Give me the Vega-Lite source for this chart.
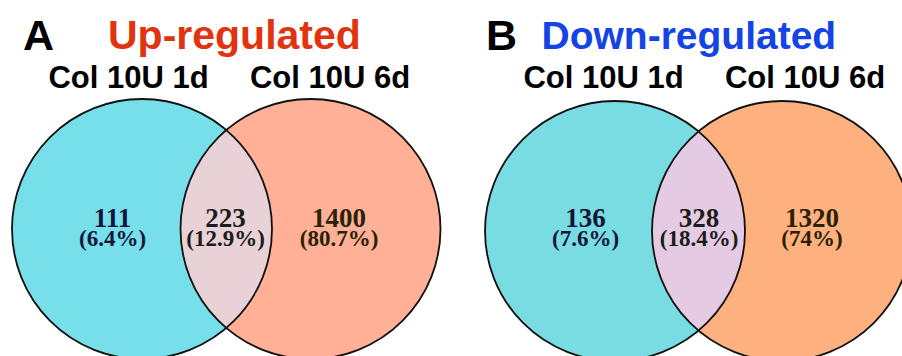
{
  "$schema": "https://vega.github.io/schema/vega-lite/v6.json",
  "width": 902,
  "height": 356,
  "autosize": "none",
  "padding": 0,
  "background": "white",
  "config": {"view": {"stroke": null}},
  "datasets": {
    "circles": [
      {"panel": "A", "set": "A 1d", "x": 1.42, "y": 2.29},
      {"panel": "A", "set": "A 6d", "x": 3.105, "y": 2.29},
      {"panel": "B", "set": "B 1d", "x": 6.15, "y": 2.31},
      {"panel": "B", "set": "B 6d", "x": 7.82, "y": 2.31}
    ],
    "lenses": [
      {"panel": "A", "set": "A both", "x": 2.2625, "y": 2.29},
      {"panel": "B", "set": "B both", "x": 6.985, "y": 2.31}
    ],
    "counts": [
      {"panel": "A", "region": "only 1d", "count": 111, "pct": 6.4, "x": 1.125, "y": 2.265},
      {"panel": "A", "region": "both", "count": 223, "pct": 12.9, "x": 2.255, "y": 2.265},
      {"panel": "A", "region": "only 6d", "count": 1400, "pct": 80.7, "x": 3.39, "y": 2.265},
      {"panel": "B", "region": "only 1d", "count": 136, "pct": 7.6, "x": 5.855, "y": 2.265},
      {"panel": "B", "region": "both", "count": 328, "pct": 18.4, "x": 6.99, "y": 2.265},
      {"panel": "B", "region": "only 6d", "count": 1320, "pct": 74, "x": 8.12, "y": 2.265}
    ],
    "setnames": [
      {"panel": "A", "name": "Col 10U 1d", "x": 1.285, "y": 0.88},
      {"panel": "A", "name": "Col 10U 6d", "x": 3.30, "y": 0.88},
      {"panel": "B", "name": "Col 10U 1d", "x": 6.035, "y": 0.88},
      {"panel": "B", "name": "Col 10U 6d", "x": 8.05, "y": 0.88}
    ],
    "titles": [
      {"kind": "letter", "label": "A", "x": 0.23, "y": 0.50},
      {"kind": "up", "label": "Up-regulated", "x": 1.08, "y": 0.49},
      {"kind": "letter", "label": "B", "x": 4.86, "y": 0.50},
      {"kind": "down", "label": "Down-regulated", "x": 5.415, "y": 0.49}
    ]
  },
  "encoding": {
    "x": {"field": "x", "type": "quantitative", "axis": null, "scale": {"domain": [0, 9.02], "nice": false, "zero": false}},
    "y": {"field": "y", "type": "quantitative", "axis": null, "scale": {"domain": [0, 3.56], "reverse": true, "nice": false, "zero": false}}
  },
  "layer": [
    {
      "data": {"name": "circles"},
      "mark": {"type": "point", "shape": "circle", "size": 67600, "filled": true, "opacity": 1, "strokeWidth": 0, "clip": false},
      "encoding": {
        "fill": {"field": "set", "type": "nominal", "legend": null,
          "scale": {"domain": ["A 1d", "A 6d", "B 1d", "B 6d"],
                    "range": ["#76DFEA", "#FFB096", "#78DCE2", "#FFB07F"]}}
      }
    },
    {
      "data": {"name": "lenses"},
      "mark": {"type": "point", "shape": "M0,-0.7615A1,1,0,0,1,0,0.7615A1,1,0,0,1,0,-0.7615Z", "size": 67600, "filled": true, "opacity": 1, "strokeWidth": 0, "clip": false},
      "encoding": {
        "fill": {"field": "set", "type": "nominal", "legend": null,
          "scale": {"domain": ["A both", "B both"], "range": ["#E8D1D7", "#E4CBE3"]}}
      }
    },
    {
      "data": {"name": "circles"},
      "mark": {"type": "point", "shape": "circle", "size": 67600, "filled": false, "opacity": 1, "stroke": "#111111", "strokeWidth": 1.8, "clip": false},
      "encoding": {}
    },
    {
      "data": {"name": "counts"},
      "mark": {"type": "text", "font": "Liberation Serif", "fontWeight": "bold", "fontSize": 27, "align": "center", "baseline": "alphabetic"},
      "encoding": {
        "text": {"field": "count", "type": "quantitative", "format": "d"},
        "color": {"field": "region", "type": "nominal", "legend": null,
          "scale": {"domain": ["only 1d", "both", "only 6d"], "range": ["#15153a", "#1c1c1c", "#2a2208"]}}
      }
    },
    {
      "data": {"name": "counts"},
      "transform": [{"calculate": "'(' + datum.pct + '%)'", "as": "pctLabel"}],
      "mark": {"type": "text", "font": "Liberation Serif", "fontWeight": "bold", "fontSize": 23, "align": "center", "baseline": "alphabetic", "dy": 19},
      "encoding": {
        "text": {"field": "pctLabel", "type": "nominal"},
        "color": {"field": "region", "type": "nominal", "legend": null,
          "scale": {"domain": ["only 1d", "both", "only 6d"], "range": ["#15153a", "#1c1c1c", "#2a2208"]}}
      }
    },
    {
      "data": {"name": "setnames"},
      "mark": {"type": "text", "font": "Liberation Sans", "fontWeight": "bold", "fontSize": 31, "align": "center", "baseline": "alphabetic", "color": "#000000"},
      "encoding": {
        "text": {"field": "name", "type": "nominal"}
      }
    },
    {
      "data": {"name": "titles"},
      "mark": {"type": "text", "font": "Liberation Sans", "fontWeight": "bold", "fontSize": 39, "align": "left", "baseline": "alphabetic"},
      "encoding": {
        "text": {"field": "label", "type": "nominal"},
        "size": {"field": "kind", "type": "nominal", "legend": null,
          "scale": {"domain": ["letter", "up", "down"], "range": [43, 39, 39.5]}},
        "fill": {"field": "kind", "type": "nominal", "legend": null,
          "scale": {"domain": ["letter", "up", "down"], "range": ["#000000", "#E2330F", "#1444E6"]}}
      }
    }
  ],
  "resolve": {"scale": {"fill": "independent", "color": "independent", "size": "independent"}}
}
